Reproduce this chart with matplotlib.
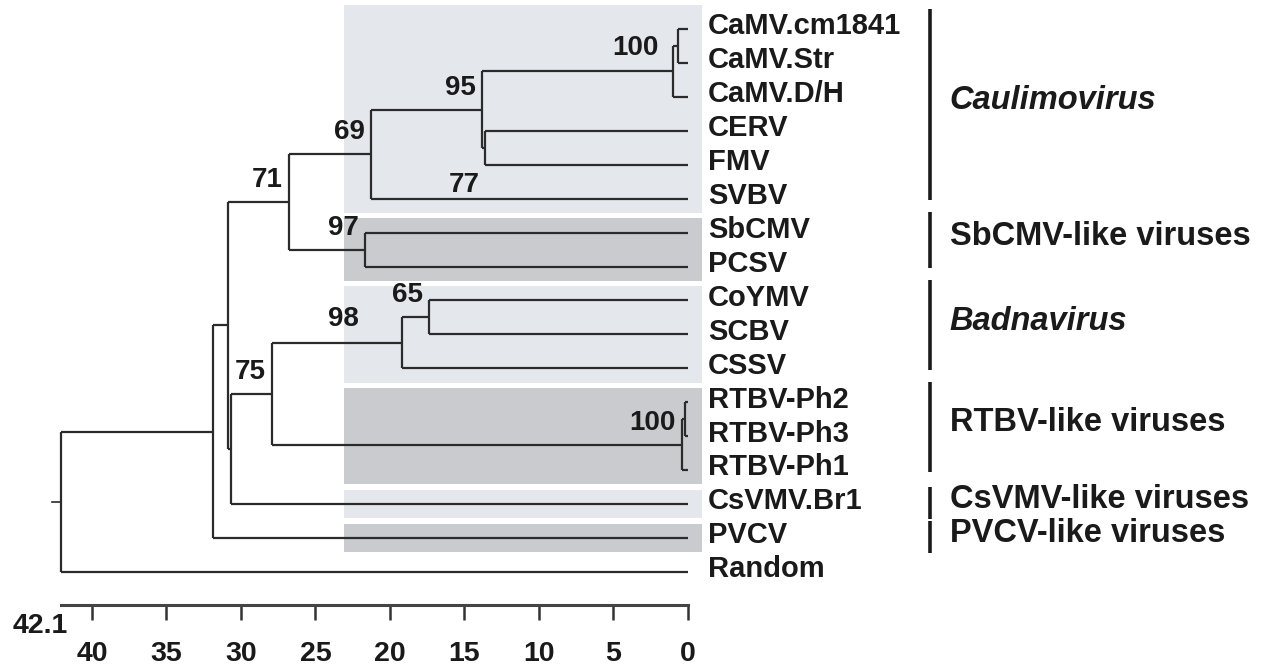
# Dendrogram of caulimovirus sequences with group bands and bootstrap values
import matplotlib.pyplot as plt

plt.rcParams['font.family'] = ['Liberation Sans', 'DejaVu Sans']

# leaves, top to bottom
leaves = ['CaMV.cm1841', 'CaMV.Str', 'CaMV.D/H', 'CERV', 'FMV', 'SVBV',
          'SbCMV', 'PCSV', 'CoYMV', 'SCBV', 'CSSV',
          'RTBV-Ph2', 'RTBV-Ph3', 'RTBV-Ph1', 'CsVMV.Br1', 'PVCV', 'Random']

# internal nodes (distance from the tips) and bootstrap support
node_names = ['n1', 'n2', 'n3', 'n4', 'n5', 'n6', 'n7', 'n8', 'n9',
              'n10', 'n11', 'n12', 'n13', 'n14', 'n15', 'root']
left_child = ['CaMV.cm1841', 'n1', 'CERV', 'n2', 'n4', 'SbCMV', 'n5',
              'CoYMV', 'n8', 'RTBV-Ph2', 'n10', 'n9', 'n12', 'n7', 'n14', 'n15']
right_child = ['CaMV.Str', 'CaMV.D/H', 'FMV', 'n3', 'SVBV', 'PCSV', 'n6',
               'SCBV', 'CSSV', 'RTBV-Ph3', 'RTBV-Ph1', 'n11', 'CsVMV.Br1',
               'n13', 'PVCV', 'Random']
node_height = [0.7, 1.0, 13.6, 13.8, 21.3, 21.7, 26.8,
               17.4, 19.2, 0.2, 0.4, 27.9, 30.7, 30.9, 31.9, 42.1]
node_support = [None, 100, 77, 95, 69, 97, 71,
                65, 98, None, 100, 75, None, None, None, None]

# groups shown on the right
group_names = ['Caulimovirus', 'SbCMV-like viruses', 'Badnavirus',
               'RTBV-like viruses', 'CsVMV-like viruses', 'PVCV-like viruses']
group_first = ['CaMV.cm1841', 'SbCMV', 'CoYMV', 'RTBV-Ph2', 'CsVMV.Br1', 'PVCV']
group_last = ['SVBV', 'PCSV', 'CSSV', 'RTBV-Ph1', 'CsVMV.Br1', 'PVCV']
group_italic = [True, False, True, False, False, False]
group_shade = ['#e4e7ec', '#c9cbcf', '#e4e7ec', '#c9cbcf', '#e4e7ec', '#c9cbcf']

x_ticks = [0, 5, 10, 15, 20, 25, 30, 35, 40]
scale_max = 42.1

line_col = '#2b2b2b'

fig = plt.figure(figsize=(12.69, 6.67), dpi=100)
ax = fig.add_axes([0, 0, 1, 1])
ax.set_xlim(46.17, -38.99)
ax.set_ylim(18.80, -0.855)

# layout: leaves on rows, internal nodes at mean of children
ypos = {name: i for i, name in enumerate(leaves)}
xpos = {name: 0.0 for name in leaves}
for nm, a, b, h in zip(node_names, left_child, right_child, node_height):
    ypos[nm] = (ypos[a] + ypos[b]) / 2
    xpos[nm] = h

# shaded bands behind the tree
for i, (first, last, col) in enumerate(zip(group_first, group_last, group_shade)):
    y0 = ypos[first] - (0.7 if i == 0 else 0.42)
    y1 = ypos[last] + 0.42
    ax.fill_between([23.1, -0.95], y0, y1, color=col, lw=0, zorder=0)

# branches
for nm, a, b in zip(node_names, left_child, right_child):
    h = xpos[nm]
    ax.plot([h, h], [ypos[a], ypos[b]], color=line_col, lw=1.6,
            solid_capstyle='butt', zorder=2)
    for c in (a, b):
        ax.plot([h, xpos[c]], [ypos[c], ypos[c]], color=line_col, lw=1.6,
                solid_capstyle='butt', zorder=2)
# little stem at the root
ax.plot([scale_max + 0.6, scale_max], [ypos['root']] * 2, color=line_col, lw=1.2)

# bootstrap values
for nm, s in zip(node_names, node_support):
    if s is None:
        continue
    off, va = (-6, 9), 'bottom'
    if s == 98:
        off = (-43, 11)
    if nm == 'n3':
        off, va = (-6, -24), 'top'
    if nm == 'n2':
        off = (-14, 10)
    ax.annotate(str(s), (xpos[nm], ypos[nm]), xytext=off,
                textcoords='offset pixels', ha='right', va=va,
                fontsize=20, fontweight='bold', color='#1a1a1a')

# leaf labels
for name in leaves:
    ax.text(-1.35, ypos[name] - 0.08, name, ha='left', va='center',
            fontsize=21, fontweight='bold', color='#1a1a1a')

# group bars and names
for g, first, last, it in zip(group_names, group_first, group_last, group_italic):
    if first == last:
        top, bot = ypos[first] - 0.5, ypos[last] + 0.45
    else:
        top, bot = ypos[first] - 0.6, ypos[last] + 0.05
    ax.plot([-16.25, -16.25], [top, bot], color='#1a1a1a', lw=2.6,
            solid_capstyle='butt')
    ax.text(-17.55, (top + bot) / 2 - 0.12, g, ha='left', va='center',
            fontsize=23.5, fontweight='bold', color='#1a1a1a',
            fontstyle='italic' if it else 'normal')

# distance scale as the bottom axis
for side in ['top', 'left', 'right']:
    ax.spines[side].set_visible(False)
ax.spines['bottom'].set_position(('data', 16.98))
ax.spines['bottom'].set_bounds(0, scale_max)
ax.spines['bottom'].set_linewidth(2.2)
ax.spines['bottom'].set_color('#444444')
ax.set_xticks(x_ticks)
ax.set_xticklabels([str(t) for t in x_ticks])
ax.tick_params(axis='x', direction='out', length=11, width=1.8, color='#333333',
               pad=15, labelsize=20.5, labelcolor='#1a1a1a')
for lab in ax.get_xticklabels():
    lab.set_fontweight('bold')
ax.set_yticks([])
ax.text(43.5, 17.6, '42.1', ha='center', va='center', fontsize=20.5,
        fontweight='bold', color='#1a1a1a')

fig.savefig('out.png', dpi=100)
